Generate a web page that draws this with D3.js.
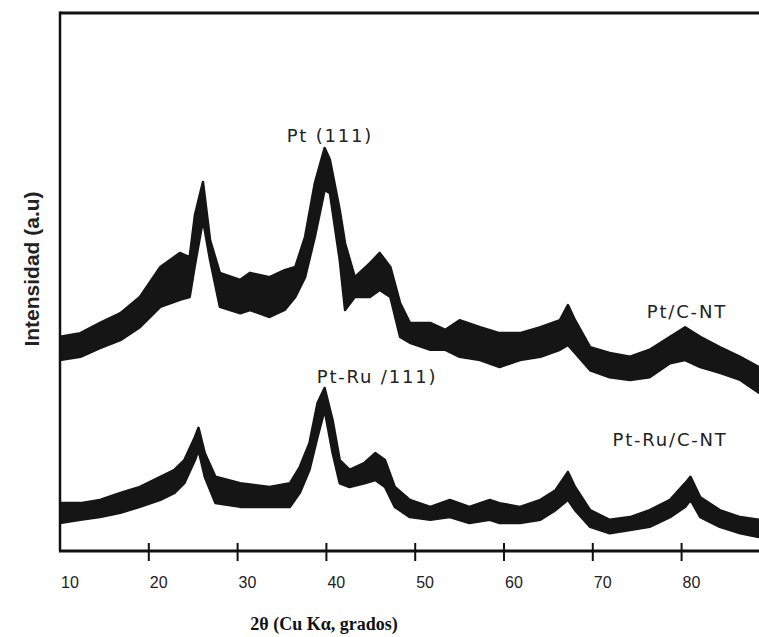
<!DOCTYPE html>
<html>
<head>
<meta charset="utf-8">
<script src="https://cdn.jsdelivr.net/npm/d3@7"></script>
<style>
  html, body { margin: 0; padding: 0; background: #ffffff; }
  svg { display: block; }
</style>
</head>
<body>
<svg id="chart" width="759" height="637"></svg>
<script>
// ---- Data ----
// 2θ positions (degrees) for Pt/C-NT, with upper and lower envelope of the noisy trace (a.u.)
const ptAngle = [10.0,12.3,14.5,16.8,19.0,21.3,23.5,24.6,25.2,26.1,26.9,28.0,30.3,31.4,33.6,35.3,36.5,37.6,38.7,39.8,40.4,41.5,42.1,43.2,44.9,46.0,47.2,48.3,49.4,51.7,53.4,55.0,57.3,59.5,61.8,64.1,66.3,67.2,68.0,69.7,71.9,74.2,76.4,78.7,80.4,82.1,84.3,86.6,88.7];
const ptUpper = [39.8,40.5,42.4,44.2,47.2,52.8,55.4,54.6,62.5,68.6,57.8,51.7,50.4,51.7,50.9,52.2,52.8,58.4,68.4,74.9,72.7,63.4,57.2,50.9,53.5,55.4,52.8,46.1,42.4,42.4,41.1,42.9,41.6,40.5,40.5,41.6,42.9,45.7,42.9,37.9,36.8,36.1,37.4,39.8,41.6,39.8,37.9,36.1,34.2];
const ptLower = [35.5,36.1,37.7,39.2,41.6,45.4,46.7,47.2,53.2,61.5,54.1,45.4,44.2,44.8,43.5,44.8,47.2,50.9,58.4,67.1,66.5,54.1,44.8,47.2,47.2,48.5,47.2,39.8,38.7,37.4,37.4,36.1,35.5,34.2,35.5,36.1,37.4,38.3,36.8,33.6,32.3,31.8,32.3,34.9,35.5,34.2,33.1,31.8,29.4];

// 2θ positions (degrees) for Pt-Ru/C-NT, with upper and lower envelope (a.u.)
const ptruAngle = [10.0,12.3,14.5,16.8,19.0,21.3,22.9,24.0,25.2,25.6,26.3,27.5,30.3,33.6,35.9,37.0,38.1,39.0,39.8,40.7,41.5,42.6,44.3,45.5,46.6,47.7,49.4,51.7,53.9,56.1,58.4,59.5,61.8,64.1,65.8,67.2,68.0,69.7,71.9,74.2,76.4,78.7,80.4,81.0,82.1,84.3,86.6,88.7];
const ptruUpper = [8.9,8.9,9.5,10.8,11.9,13.8,15.1,16.9,21.2,22.9,18.2,13.8,12.6,11.9,12.6,15.6,20.1,27.5,30.3,24.3,16.9,15.1,16.4,18.2,16.9,11.9,9.5,8.2,9.5,8.2,9.5,8.9,8.2,9.5,11.3,14.7,11.9,7.6,5.8,6.3,7.6,9.5,12.6,13.8,10.0,7.6,6.3,5.8];
const ptruLower = [5.2,5.8,6.3,7.1,8.2,9.5,10.8,12.6,16.9,18.8,13.8,8.9,8.2,8.2,8.2,10.8,15.1,21.2,26.2,18.2,12.6,11.9,12.6,13.2,11.9,8.2,6.3,5.8,6.3,5.2,5.8,5.2,5.2,5.8,7.6,9.5,7.6,4.5,3.3,3.9,4.5,6.3,8.2,9.5,6.3,4.5,3.3,2.6];

// Axis ticks and labels
const xTicks = [10, 20, 30, 40, 50, 60, 70, 80];
const xTitle = "2θ  (Cu Kα, grados)";
const yTitle = "Intensidad (a.u)";

// Annotations: [text, 2θ, intensity]
const annotations = [
  ["Pt (111)", 40.4, 76.0],
  ["Pt-Ru /111)", 45.7, 31.2],
  ["Pt/C-NT", 80.6, 43.3],
  ["Pt-Ru/C-NT", 78.7, 19.5]
];

// ---- Layout ----
const svg = d3.select("#chart");
const mLeft = 60, mRight = 759, mTop = 13, mBottom = 551;

const x = d3.scaleLinear().domain([10, 10 + (mRight - mLeft) / 8.88]).range([mLeft, mRight]);
const y = d3.scaleLinear().domain([0, 100]).range([mBottom, mTop]);

const ink = "#151515";

// Traces as filled bands between the envelopes
function band(angles, upper, lower) {
  const pts = angles.map((a, i) => ({a, u: upper[i], l: lower[i]}));
  return d3.area()
    .x(d => x(d.a))
    .y0(d => y(d.l))
    .y1(d => y(d.u))
    .curve(d3.curveLinear)(pts);
}

svg.append("clipPath").attr("id", "plotclip")
  .append("rect").attr("x", mLeft).attr("y", mTop).attr("width", mRight - mLeft).attr("height", mBottom - mTop);

const g = svg.append("g").attr("clip-path", "url(#plotclip)");
g.append("path").attr("d", band(ptAngle, ptUpper, ptLower))
  .attr("fill", ink).attr("stroke", ink).attr("stroke-width", 2.5).attr("stroke-linejoin", "round");
g.append("path").attr("d", band(ptruAngle, ptruUpper, ptruLower))
  .attr("fill", ink).attr("stroke", ink).attr("stroke-width", 2.5).attr("stroke-linejoin", "round");

// Frame: top and left
svg.append("line").attr("x1", mLeft).attr("x2", mRight).attr("y1", mTop).attr("y2", mTop)
  .attr("stroke", "#111").attr("stroke-width", 3);
svg.append("line").attr("x1", mLeft).attr("x2", mLeft).attr("y1", mTop - 1.5).attr("y2", mBottom)
  .attr("stroke", "#111").attr("stroke-width", 2.5);

// Bottom axis (positions from the D3 scale)
const xAxis = d3.axisBottom(x).tickValues(xTicks.filter(t => t > 10)).tickSize(0).tickFormat("");
const axG = svg.append("g").attr("transform", `translate(0,${mBottom})`).call(xAxis);
axG.select(".domain").remove();
svg.append("line").attr("x1", mLeft - 1).attr("x2", mRight).attr("y1", mBottom).attr("y2", mBottom)
  .attr("stroke", "#111").attr("stroke-width", 3);
// tick marks crossing the axis
svg.append("g").selectAll("line").data(xTicks.filter(t => t > 10)).join("line")
  .attr("x1", d => x(d)).attr("x2", d => x(d))
  .attr("y1", mBottom - 8).attr("y2", mBottom + 10)
  .attr("stroke", "#111").attr("stroke-width", 2);
// tick labels (left-aligned at tick)
svg.append("g").selectAll("text").data(xTicks).join("text")
  .attr("x", d => x(d) + 1).attr("y", mBottom + 37)
  .attr("font-family", "'Liberation Sans', Arial, sans-serif")
  .attr("font-size", 16).attr("fill", "#222")
  .text(d => d);

// Axis titles
svg.append("text").attr("x", 324).attr("y", 630).attr("text-anchor", "middle")
  .attr("font-family", "'Liberation Serif', 'Times New Roman', serif")
  .attr("font-weight", "bold").attr("font-size", 18).attr("fill", "#111")
  .text(xTitle);

svg.append("text")
  .attr("transform", "translate(39,269) rotate(-90)")
  .attr("text-anchor", "middle")
  .attr("font-family", "'Liberation Sans', Arial, sans-serif")
  .attr("font-weight", "bold").attr("font-size", 21).attr("fill", "#222")
  .text(yTitle);

// Annotations
svg.append("g").selectAll("text").data(annotations).join("text")
  .attr("x", d => x(d[1])).attr("y", d => y(d[2]))
  .attr("text-anchor", "middle")
  .attr("font-family", "'DejaVu Sans', sans-serif")
  .attr("font-size", 18).attr("letter-spacing", 1.8).attr("fill", "#222")
  .text(d => d[0]);
</script>
</body>
</html>
